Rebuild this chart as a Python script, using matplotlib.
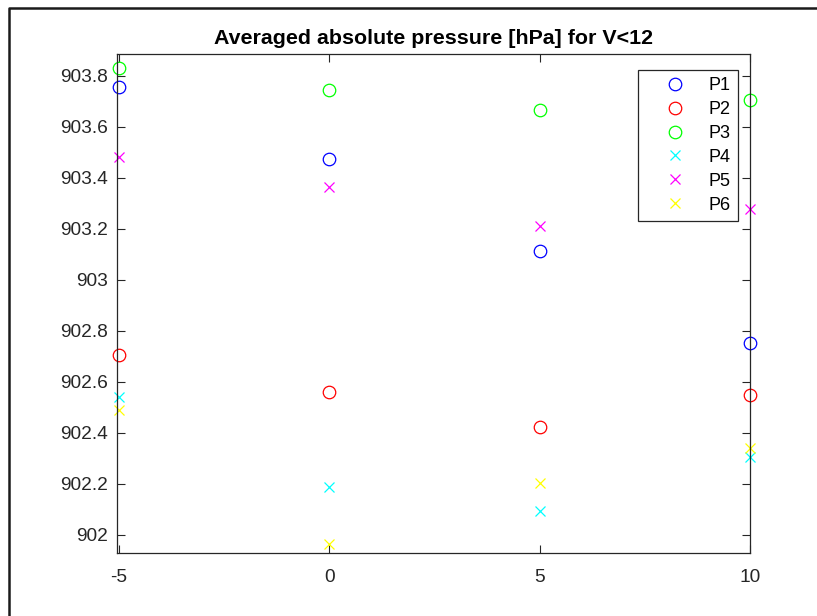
import numpy as np
import matplotlib
matplotlib.use('Agg')
import matplotlib.pyplot as plt
from matplotlib.lines import Line2D
from matplotlib.ticker import FuncFormatter

# valores
velocidade = [-5, 0, 5, 10]
p1 = [903.755, 903.472, 903.114, 902.753]
p2 = [902.705, 902.561, 902.421, 902.549]
p3 = [903.831, 903.744, 903.664, 903.705]
p4 = [902.541, 902.187, 902.093, 902.303]
p5 = [903.481, 903.362, 903.212, 903.279]
p6 = [902.490, 901.962, 902.202, 902.339]

series = [('P1', p1, 'o', '#0000ff'),
          ('P2', p2, 'o', '#ff0000'),
          ('P3', p3, 'o', '#00ff00'),
          ('P4', p4, 'x', '#00ffff'),
          ('P5', p5, 'x', '#ff00ff'),
          ('P6', p6, 'x', '#ffff00')]

plt.rcParams['font.family'] = ['Liberation Sans', 'DejaVu Sans']
plt.rcParams['axes.unicode_minus'] = False

W, H = 817, 616
fig = plt.figure(figsize=(W / 100, H / 100), dpi=100)
fig.patch.set_facecolor('white')

# moldura da figura (recortada à direita e embaixo)
fig.add_artist(Line2D([9 / W, 9 / W, 1], [0, 1 - 7.5 / H, 1 - 7.5 / H],
                      transform=fig.transFigure, color='#1a1a1a', linewidth=1.8))

ax = fig.add_axes([116.7 / W, 1 - 552.7 / H, (750 - 116.7) / W, (552.7 - 54) / H])
eixo_cor = '#262626'

for nome, vals, marc, cor in series:
    if marc == 'o':
        ax.plot(velocidade, vals, linestyle='none', marker='o', markersize=9,
                markerfacecolor='none', markeredgecolor=cor, markeredgewidth=0.9,
                label=nome, clip_on=False)
    else:
        ax.plot(velocidade, vals, linestyle='none', marker='x', markersize=6.5,
                markeredgecolor=cor, markeredgewidth=0.9, label=nome, clip_on=False)

ax.set_xlim(-5.055, 10)
ax.set_ylim(901.929, 903.885)
ax.set_xticks([-5, 0, 5, 10])
ax.set_yticks(np.round(np.arange(902, 903.81, 0.2), 1))
ax.yaxis.set_major_formatter(FuncFormatter(lambda v, p: f'{v:g}'))

for s in ax.spines.values():
    s.set_color(eixo_cor)
    s.set_linewidth(0.9)
ax.tick_params(direction='in', length=6, width=0.8, colors=eixo_cor,
               labelsize=13.8, top=True, right=True)
ax.tick_params(axis='y', pad=6)
ax.tick_params(axis='x', pad=11.5)

ax.set_title('Averaged absolute pressure [hPa] for V<12', fontsize=15.4,
             fontweight='bold', pad=7)

leg = ax.legend(loc='upper left', bbox_to_anchor=(638 / W, 1 - 70 / H),
                bbox_transform=fig.transFigure, fontsize=13, frameon=True,
                fancybox=False, framealpha=1, edgecolor='#262626',
                handlelength=3.3, handletextpad=0.2, labelspacing=0.38,
                borderpad=0.4, borderaxespad=0)
leg.get_frame().set_linewidth(0.9)

fig.savefig('out.png', dpi=100)
